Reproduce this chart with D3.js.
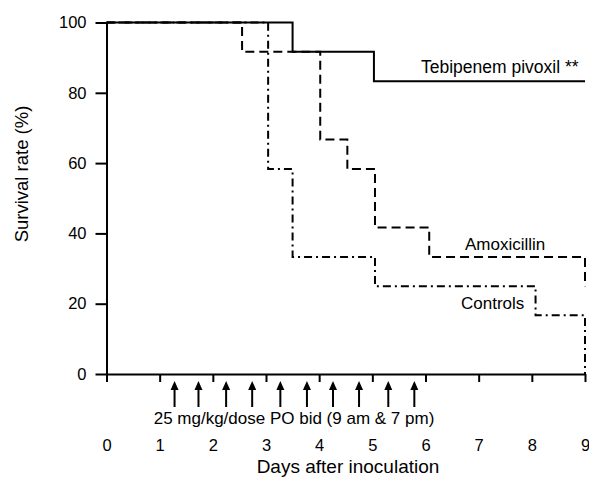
<!DOCTYPE html>
<html>
<head>
<meta charset="utf-8">
<script src="https://cdn.jsdelivr.net/npm/d3@7"></script>
<style>
	body { margin: 0; background: #fff; }
	text { font-family: "Liberation Sans", Arial, sans-serif; fill: #000; }
</style>
</head>
<body>
<div id="chart"></div>
<script>
var CHART_WIDTH = 589;
var CHART_HEIGHT = 481;

// survival steps (days, %)
var tebiDays = [0, 3.5, 5.03, 9];
var tebiSurv = [100, 91.7, 83.3, 83.3];
var amoxDays = [0, 2.55, 4.02, 4.53, 5.05, 6.07, 9];
var amoxSurv = [100, 91.7, 66.7, 58.3, 41.7, 33.3, 25];
var ctrlDays = [0, 3.04, 3.5, 5.05, 8.07, 9];
var ctrlSurv = [100, 58.3, 33.3, 25, 16.7, 0];

// dosing times (days)
var doseDays = [1.28, 1.73, 2.25, 2.74, 3.27, 3.77, 4.26, 4.75, 5.3, 5.79];

var xTicks = [0, 1, 2, 3, 4, 5, 6, 7, 8, 9];
var yTicks = [0, 20, 40, 60, 80, 100];

var svg = d3.select("#chart")
	.append("svg")
	.attr("width", CHART_WIDTH)
	.attr("height", CHART_HEIGHT);

var xScale = d3.scaleLinear().domain([0, 9]).range([106.5, 585]);
var yScale = d3.scaleLinear().domain([0, 100]).range([374, 22.5]);

// axes
var xAxis = svg.append("g")
	.attr("transform", "translate(0," + yScale(0) + ")")
	.call(d3.axisBottom(xScale).tickValues(xTicks).tickSize(8).tickSizeOuter(0).tickPadding(57));
xAxis.selectAll("text").style("font-size", "16.5px");

var yAxis = svg.append("g")
	.attr("transform", "translate(" + xScale(0) + ",0)")
	.call(d3.axisLeft(yScale).tickValues(yTicks).tickSize(11).tickSizeOuter(0).tickPadding(9));
yAxis.selectAll("text").style("font-size", "16.5px");

svg.selectAll(".domain, .tick line").attr("stroke", "#000").attr("stroke-width", 2);

// labels
svg.append("text")
	.attr("x", 348)
	.attr("y", 473)
	.attr("text-anchor", "middle")
	.style("font-size", "19px")
	.text("Days after inoculation");

svg.append("text")
	.attr("transform", "rotate(-90)")
	.attr("x", -174)
	.attr("y", 28)
	.attr("text-anchor", "middle")
	.style("font-size", "18.5px")
	.text("Survival rate (%)");

svg.append("text")
	.attr("x", 294)
	.attr("y", 424)
	.attr("text-anchor", "middle")
	.style("font-size", "17px")
	.text("25 mg/kg/dose PO bid (9 am & 7 pm)");

// dose arrows
var arrows = svg.append("g");
arrows.selectAll("line")
	.data(doseDays)
	.join("line")
	.attr("x1", d => xScale(d))
	.attr("x2", d => xScale(d))
	.attr("y1", 407)
	.attr("y2", 388)
	.attr("stroke", "#000")
	.attr("stroke-width", 2);
arrows.selectAll("path")
	.data(doseDays)
	.join("path")
	.attr("d", d => {
		var x = xScale(d);
		return "M" + x + ",381L" + (x - 4) + ",390L" + (x + 4) + ",390Z";
	})
	.attr("fill", "#000");

// curves
var line = d3.line()
	.x(d => xScale(d[0]))
	.y(d => yScale(d[1]))
	.curve(d3.curveStepAfter);

svg.append("path")
	.datum(d3.zip(ctrlDays, ctrlSurv))
	.attr("d", line)
	.attr("fill", "none")
	.attr("stroke", "#000")
	.attr("stroke-width", 2)
	.attr("stroke-dasharray", "8,4,2,4");

svg.append("path")
	.datum(d3.zip(amoxDays, amoxSurv))
	.attr("d", line)
	.attr("fill", "none")
	.attr("stroke", "#000")
	.attr("stroke-width", 2)
	.attr("stroke-dasharray", "9,5");

svg.append("path")
	.datum(d3.zip(tebiDays, tebiSurv))
	.attr("d", line)
	.attr("fill", "none")
	.attr("stroke", "#000")
	.attr("stroke-width", 2);

// curve names
svg.append("text")
	.attr("x", 421)
	.attr("y", 73)
	.style("font-size", "17.5px")
	.text("Tebipenem pivoxil **");

svg.append("text")
	.attr("x", 465)
	.attr("y", 250)
	.style("font-size", "17px")
	.text("Amoxicillin");

svg.append("text")
	.attr("x", 461)
	.attr("y", 309)
	.style("font-size", "17px")
	.text("Controls");
</script>
</body>
</html>
